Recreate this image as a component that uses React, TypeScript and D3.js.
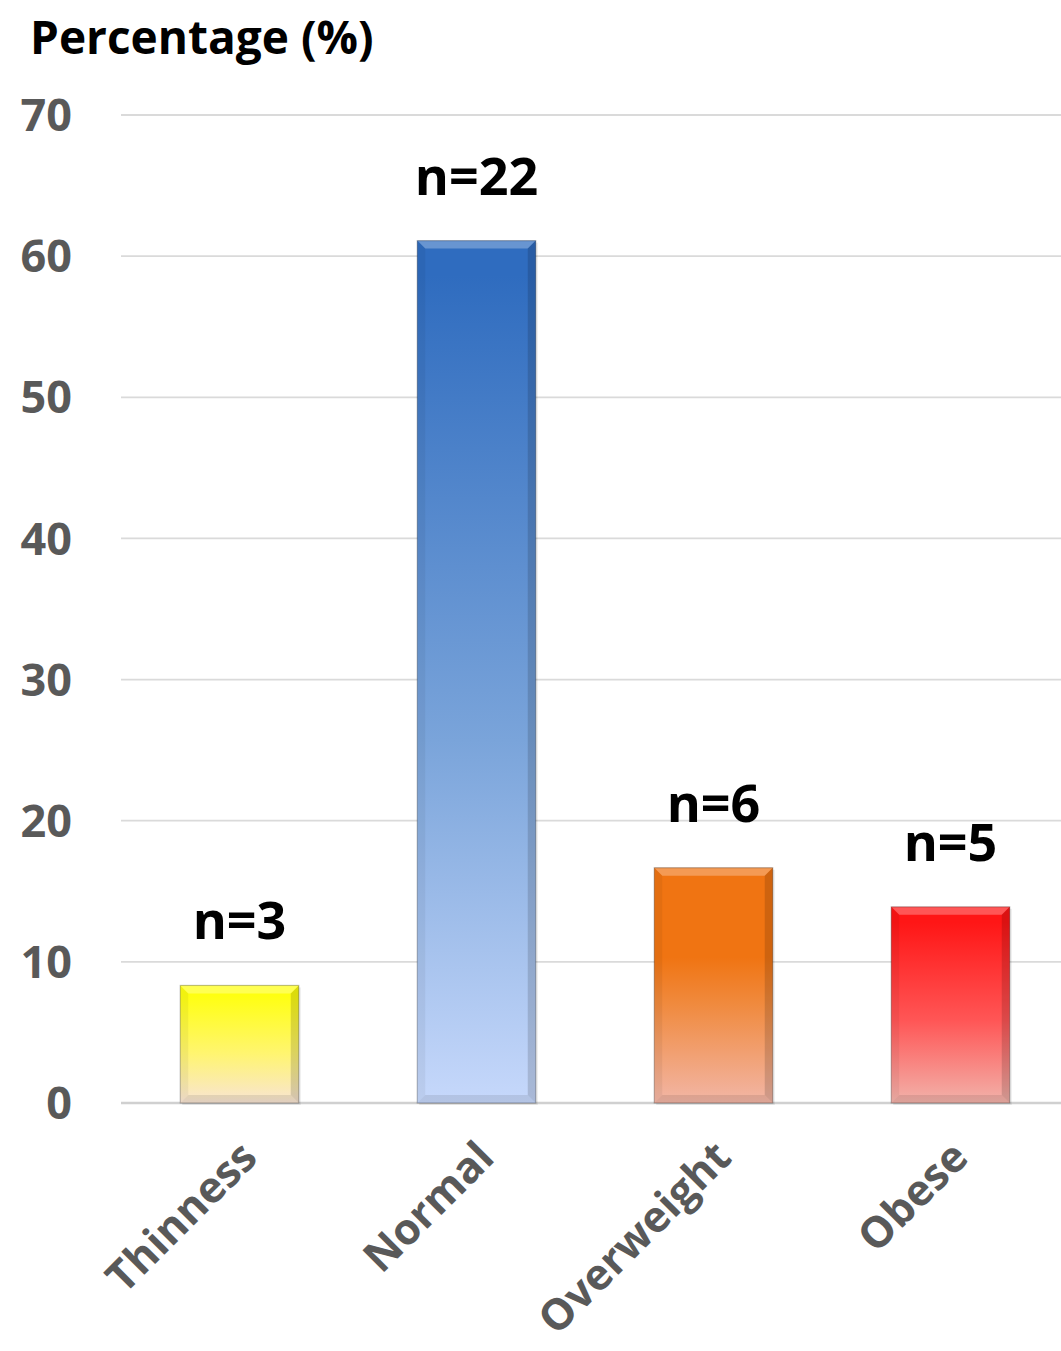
import React from "react";
import * as d3 from "d3";

const categories = ["Thinness", "Normal", "Overweight", "Obese"];
const values = [8.33, 61.1, 16.67, 13.9];
const counts = ["n=3", "n=22", "n=6", "n=5"];
const yTicks = [0, 10, 20, 30, 40, 50, 60, 70];
const gradTop = ["#ffff10", "#2f6cbf", "#f07412", "#ff1616"];
const gradMid = ["#fff570", "#7aa4da", "#f08a3e", "#ff5656"];
const gradBottom = ["#f8e4d4", "#c6d8fb", "#f2b6a6", "#f2b2aa"];
const topStop = ["8%", "4%", "38%", "8%"];

const W = 1061;
const H = 1351;
const FONT = "'Open Sans', Lato, sans-serif";

export default function App() {
  const x = d3.scaleBand<string>().domain(categories).range([121, 1069]).paddingInner(0.5).paddingOuter(0.25);
  const y = d3.scaleLinear().domain([0, 70]).range([1103, 115]);
  const bw = x.bandwidth();
  const bev = 8;
  return (
    <svg width={W} height={H} style={{ display: "block", position: "absolute", left: 0, top: 0, background: "#fff" }}>
      <defs>
        {categories.map((c, i) => (
          <linearGradient key={c} id={`g${i}`} x1="0" y1="0" x2="0" y2="1">
            <stop offset="0%" stopColor={gradTop[i]} />
            <stop offset={topStop[i]} stopColor={gradTop[i]} />
            <stop offset="58%" stopColor={gradMid[i]} />
            <stop offset="100%" stopColor={gradBottom[i]} />
          </linearGradient>
        ))}
      </defs>
      <rect x={0} y={0} width={W} height={H} fill="#fff" />
      {yTicks.map((t) => (
        <g key={t}>
          <line x1={121} x2={W} y1={y(t)} y2={y(t)} stroke={t === 0 ? "#d0d0d0" : "#dadada"} strokeWidth={t === 0 ? 2.5 : 1.8} />
          <text x={72} y={y(t)} dy="0.36em" textAnchor="end" fontFamily={FONT} fontWeight={700} fontSize={45} fill="#595959">
            {t}
          </text>
        </g>
      ))}
      {categories.map((c, i) => {
        const x0 = x(c)!;
        const y0 = y(values[i]);
        const y1 = y(0);
        const h = y1 - y0;
        return (
          <g key={c}>
            <rect x={x0 + 2} y={y0 + 2} width={bw} height={h} fill="rgba(0,0,0,0.08)" />
            <rect x={x0} y={y0} width={bw} height={h} fill={`url(#g${i})`} />
            <polygon points={`${x0},${y0} ${x0 + bw},${y0} ${x0 + bw - bev},${y0 + bev} ${x0 + bev},${y0 + bev}`} fill="rgba(255,255,255,0.28)" />
            <polygon points={`${x0},${y0} ${x0 + bev},${y0 + bev} ${x0 + bev},${y1 - bev} ${x0},${y1}`} fill="rgba(0,0,0,0.05)" />
            <polygon points={`${x0 + bw},${y0} ${x0 + bw - bev},${y0 + bev} ${x0 + bw - bev},${y1 - bev} ${x0 + bw},${y1}`} fill="rgba(0,0,0,0.14)" />
            <polygon points={`${x0},${y1} ${x0 + bev},${y1 - bev} ${x0 + bw - bev},${y1 - bev} ${x0 + bw},${y1}`} fill="rgba(0,0,0,0.09)" />
            <rect x={x0} y={y0} width={bw} height={h} fill="none" stroke="rgba(0,0,0,0.25)" strokeWidth={1.2} />
            <text x={x0 + bw / 2} y={y0 - 46} textAnchor="middle" fontFamily={FONT} fontWeight={700} fontSize={52} fill="#000">
              {counts[i]}
            </text>
            <text
              transform={`translate(${x0 + bw / 2 - 2},${1138}) rotate(-45)`}
              textAnchor="end"
              dy="0.72em"
              fontFamily={FONT}
              fontWeight={700}
              fontSize={43}
              fill="#595959"
            >
              {c}
            </text>
          </g>
        );
      })}
      <text x={30} y={54} fontFamily={FONT} fontWeight={700} fontSize={46} fill="#000">
        Percentage (%)
      </text>
    </svg>
  );
}
